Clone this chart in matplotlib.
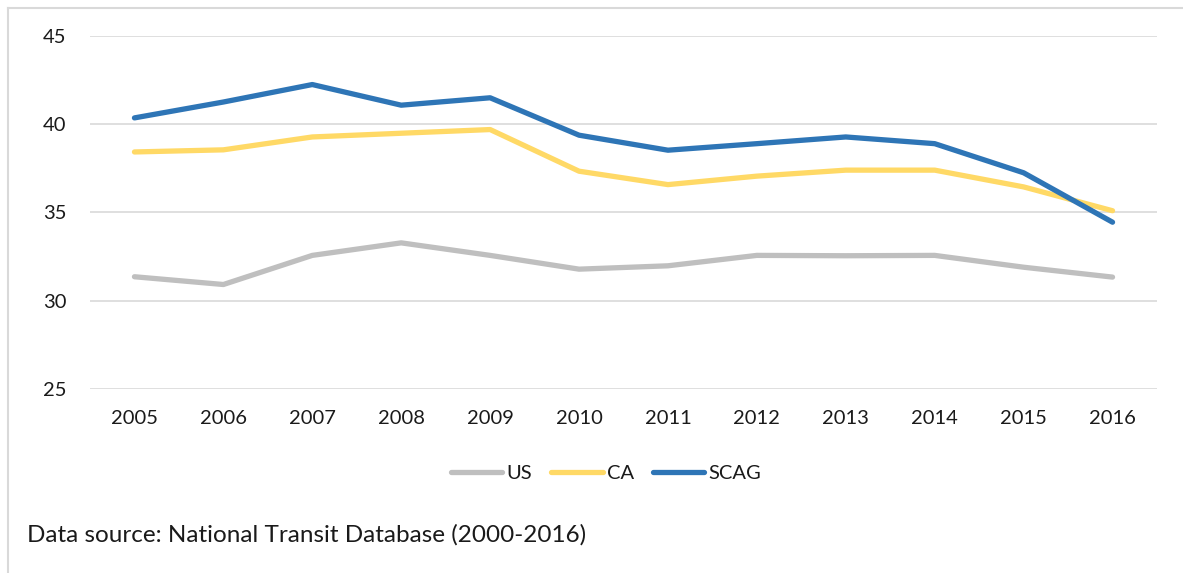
import matplotlib
matplotlib.use("Agg")
import matplotlib.pyplot as plt
from matplotlib.lines import Line2D

years = ["2005", "2006", "2007", "2008", "2009", "2010", "2011", "2012", "2013", "2014", "2015", "2016"]
us = [31.36, 30.92, 32.57, 33.28, 32.57, 31.79, 31.98, 32.57, 32.55, 32.57, 31.9, 31.34]
ca = [38.43, 38.55, 39.28, 39.49, 39.70, 37.34, 36.58, 37.06, 37.40, 37.40, 36.45, 35.10]
scag = [40.36, 41.26, 42.25, 41.08, 41.50, 39.38, 38.53, 38.90, 39.28, 38.90, 37.25, 34.45]
yticks = [25, 30, 35, 40, 45]

plt.rcParams['font.family'] = ['Lato', 'DejaVu Sans']
W, H = 1183, 573
fig = plt.figure(figsize=(W / 100, H / 100), dpi=100)
ax = fig.add_axes([90 / W, 1 - 389 / H, (1157 - 90) / W, (389 - 36) / H])

x = list(range(len(years)))
ax.plot(x, us, color='#BFBFBF', lw=3.8, solid_capstyle='round', solid_joinstyle='round', label='US', zorder=3)
ax.plot(x, ca, color='#FFD966', lw=3.8, solid_capstyle='round', solid_joinstyle='round', label='CA', zorder=3)
ax.plot(x, scag, color='#2E75B6', lw=3.8, solid_capstyle='round', solid_joinstyle='round', label='SCAG', zorder=4)

ax.set_xlim(-0.5, len(years) - 0.5)
ax.set_ylim(25, 45)
ax.set_yticks(yticks)
ax.set_xticks(x)
ax.set_xticklabels(years)
ax.grid(axis='y', color='#D9D9D9', lw=1.2)
ax.set_axisbelow(True)
for s in ax.spines.values():
    s.set_visible(False)
ax.tick_params(axis='both', length=0, labelsize=14.5, colors='#1a1a1a')
ax.tick_params(axis='y', pad=17)
ax.tick_params(axis='x', pad=15)

leg = fig.legend(loc='center', bbox_to_anchor=(606 / W, 1 - 473 / H), ncol=3, frameon=False,
                 fontsize=14.5, handlelength=2.55, columnspacing=0.95, handletextpad=0.2)
for t in leg.get_texts():
    t.set_color('#1a1a1a')

fig.text(27 / W, 1 - 535 / H, "Data source: National Transit Database (2000-2016)",
         fontsize=17.5, color='#1a1a1a', va='center', ha='left')

# outer chart border (left and top visible)
fig.add_artist(Line2D([7.5 / W, 7.5 / W], [0, 1 - 7.5 / H], transform=fig.transFigure, color='#D9D9D9', lw=1.5))
fig.add_artist(Line2D([7.5 / W, 1], [1 - 7.5 / H, 1 - 7.5 / H], transform=fig.transFigure, color='#D9D9D9', lw=1.5))

fig.savefig("out.png", dpi=100)
